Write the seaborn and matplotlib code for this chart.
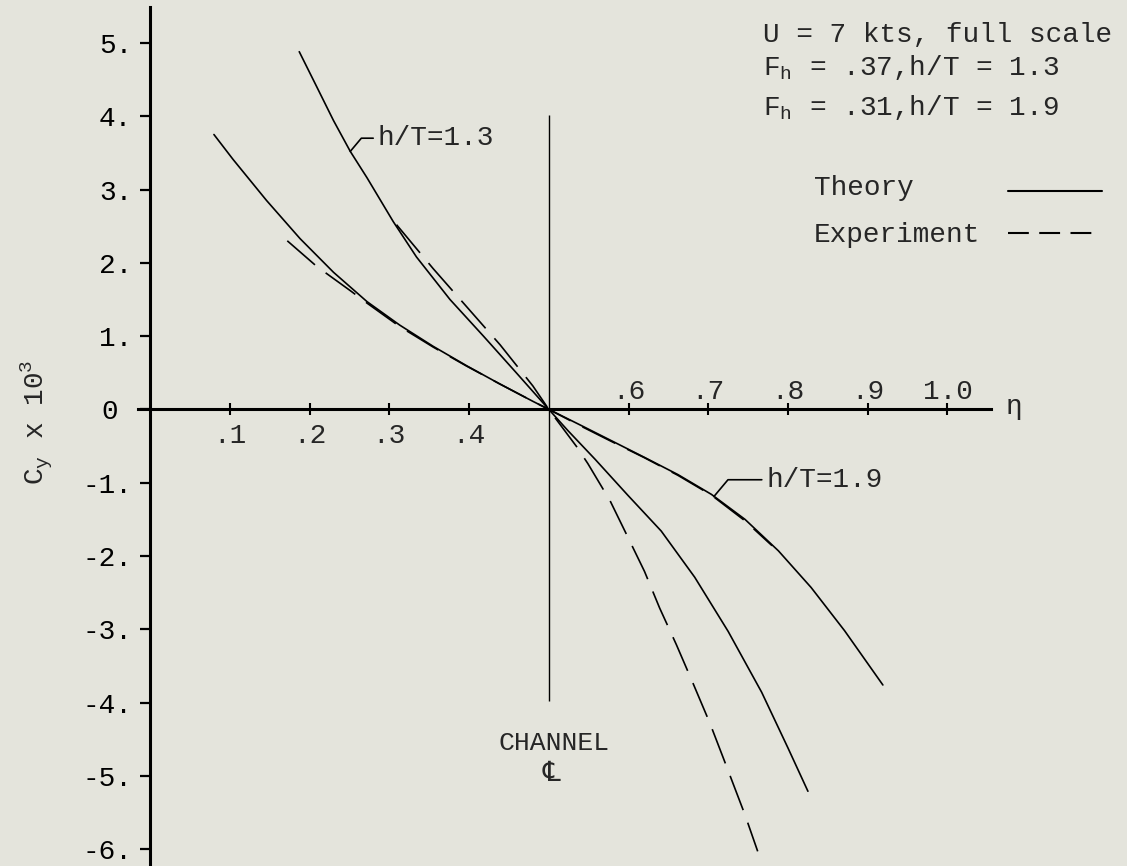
import matplotlib
matplotlib.use("Agg")
import pandas as pd
import matplotlib.pyplot as plt
import seaborn as sns
from matplotlib.lines import Line2D
from matplotlib import transforms

# values (eta, C_y x 10^3)
eta_13_theory = [0.187, 0.209, 0.230, 0.251, 0.272, 0.305, 0.334, 0.376, 0.418, 0.460, 0.500,
                 0.524, 0.558, 0.599, 0.641, 0.683, 0.725, 0.767, 0.800, 0.825]
cy_13_theory = [4.88, 4.40, 3.94, 3.52, 3.16, 2.56, 2.08, 1.50, 1.00, 0.49, 0.00,
                -0.29, -0.68, -1.17, -1.66, -2.29, -3.03, -3.86, -4.62, -5.21]

eta_13_exp = [0.309, 0.355, 0.397, 0.439, 0.480, 0.500, 0.535, 0.549, 0.577, 0.599, 0.620,
              0.639, 0.660, 0.681, 0.702, 0.719, 0.746, 0.762]
cy_13_exp = [2.52, 1.92, 1.40, 0.88, 0.32, 0.00, -0.51, -0.74, -1.25, -1.74, -2.21,
             -2.71, -3.21, -3.74, -4.28, -4.76, -5.53, -6.03]

eta_19_theory = [0.080, 0.104, 0.146, 0.188, 0.230, 0.272, 0.313, 0.355, 0.397, 0.438, 0.480, 0.500,
                 0.537, 0.579, 0.620, 0.662, 0.704, 0.746, 0.788, 0.829, 0.871, 0.919]
cy_19_theory = [3.75, 3.41, 2.85, 2.33, 1.87, 1.47, 1.15, 0.86, 0.595, 0.35, 0.11, 0.00,
                -0.20, -0.43, -0.655, -0.89, -1.16, -1.50, -1.93, -2.43, -3.02, -3.76]

eta_19_exp = [0.172, 0.209, 0.251, 0.272, 0.313, 0.355, 0.397, 0.438, 0.480, 0.500,
              0.537, 0.579, 0.620, 0.662, 0.704, 0.746, 0.780]
cy_19_exp = [2.30, 1.95, 1.62, 1.45, 1.13, 0.85, 0.59, 0.35, 0.11, 0.00,
             -0.21, -0.44, -0.66, -0.90, -1.17, -1.52, -1.86]

y_ticks = [-6, -5, -4, -3, -2, -1, 0, 1, 2, 3, 4, 5]
y_labels = ["-6.", "-5.", "-4.", "-3.", "-2.", "-1.", "0", "1.", "2.", "3.", "4.", "5."]
x_ticks = [0.1, 0.2, 0.3, 0.4, 0.6, 0.7, 0.8, 0.9, 1.0]
x_labels_below = [".1", ".2", ".3", ".4"]
x_labels_above = [".6", ".7", ".8", ".9", "1.0"]

rows = []
for curve, kind, xs, ys in [("1.3 theory", "Theory", eta_13_theory, cy_13_theory),
                            ("1.3 exp", "Experiment", eta_13_exp, cy_13_exp),
                            ("1.9 theory", "Theory", eta_19_theory, cy_19_theory),
                            ("1.9 exp", "Experiment", eta_19_exp, cy_19_exp)]:
    for x, y in zip(xs, ys):
        rows.append({"curve": curve, "kind": kind, "eta": x, "cy": y})
df = pd.DataFrame(rows)

sns.set_style("white")
plt.rcParams["font.family"] = ["Liberation Mono", "DejaVu Sans"]
plt.rcParams["mathtext.fontset"] = "custom"
plt.rcParams["mathtext.rm"] = "Liberation Mono"
FS = 20
bg = "#e4e4dc"

W, H = 1127, 866
fig = plt.figure(figsize=(W / 100, H / 100), dpi=100, facecolor=bg)
ax = fig.add_axes([137.8 / W, 0, 852.7 / W, 859 / H])
ax.set_facecolor(bg)

sns.lineplot(data=df, x="eta", y="cy", units="curve", style="kind", estimator=None, sort=False,
             color="black", linewidth=1.2, legend=False, ax=ax,
             dashes={"Theory": "", "Experiment": (22, 8)})

ax.set_xlim(-0.0155, 1.054)
ax.set_ylim(-6.23, 5.49)
ax.set_xlabel("")
ax.set_ylabel("")

for s in ["top", "right"]:
    ax.spines[s].set_visible(False)
for s in ["left", "bottom"]:
    ax.spines[s].set_position(("data", 0))
    ax.spines[s].set_linewidth(2.2)
    ax.spines[s].set_color("black")

# channel centre line
ax.vlines(0.5, -3.98, 4.02, color="black", linewidth=1.0)

ax.set_yticks(y_ticks)
ax.set_yticklabels(y_labels, fontsize=FS)
ax.tick_params(axis="y", direction="out", length=7, width=1.6, pad=6, left=True, colors="black")
ax.set_xticks(x_ticks)
ax.set_xticklabels([])
ax.tick_params(axis="x", direction="inout", length=8, width=1.5, bottom=True, colors="black")

# "0" sits in the digit column
zero_lab = ax.get_yticklabels()[y_ticks.index(0)]
zero_lab.set_transform(zero_lab.get_transform() + transforms.ScaledTranslation(-14 / 100, 0, fig.dpi_scale_trans))

for v, lab in zip(x_ticks[:4], x_labels_below):
    ax.text(v, -0.457, lab, ha="center", va="baseline", fontsize=FS)
for v, lab in zip(x_ticks[4:], x_labels_above):
    ax.text(v, 0.143, lab, ha="center", va="baseline", fontsize=FS)
ax.text(1.083, -0.06, "η", ha="center", va="baseline", fontsize=FS)

ax.text(0.506, -4.645, "CHANNEL", ha="center", va="baseline", fontsize=FS - 1)
ax.text(0.504, -5.07, "\u2104", ha="center", va="baseline", fontsize=FS,
        family=["Liberation Mono", "DejaVu Sans"])

ax.annotate("h/T=1.3", xy=(0.251, 3.52), xytext=(0.2856, 3.70), ha="left", va="center", fontsize=FS,
            arrowprops=dict(arrowstyle="-", color="black", lw=1.2, relpos=(0, 0.5), shrinkA=1, shrinkB=0,
                            connectionstyle="angle,angleA=180,angleB=50,rad=0"))
ax.annotate("h/T=1.9", xy=(0.707, -1.19), xytext=(0.773, -0.96), ha="left", va="center", fontsize=FS,
            arrowprops=dict(arrowstyle="-", color="black", lw=1.2, relpos=(0, 0.5), shrinkA=1, shrinkB=0,
                            connectionstyle="angle,angleA=180,angleB=50,rad=0"))

fig.text(37 / W, 1 - 422 / H, r"C$_{\mathregular{y}}$ x 10$^{\mathregular{3}}$", rotation=90,
         ha="center", va="center", fontsize=FS)

# parameter block
fx = 763 / W
fig.text(fx, 1 - 42 / H, "U = 7 kts, full scale", ha="left", va="baseline", fontsize=FS)
fig.text(fx, 1 - 75 / H, r"F$_{\mathregular{h}}$ = .37,h/T = 1.3", ha="left", va="baseline", fontsize=FS)
fig.text(fx, 1 - 115 / H, r"F$_{\mathregular{h}}$ = .31,h/T = 1.9", ha="left", va="baseline", fontsize=FS)

fig.text(814 / W, 1 - 195 / H, "Theory", ha="left", va="baseline", fontsize=FS)
fig.text(814 / W, 1 - 242 / H, "Experiment", ha="left", va="baseline", fontsize=FS)
fig.add_artist(Line2D([1008 / W, 1102 / W], [1 - 190.7 / H] * 2, transform=fig.transFigure,
                      color="black", lw=1.5))
fig.add_artist(Line2D([1008 / W, 1100 / W], [1 - 233 / H] * 2, transform=fig.transFigure,
                      color="black", lw=1.5, dashes=(10, 5)))

fig.savefig("out.png", dpi=100, facecolor=bg)
